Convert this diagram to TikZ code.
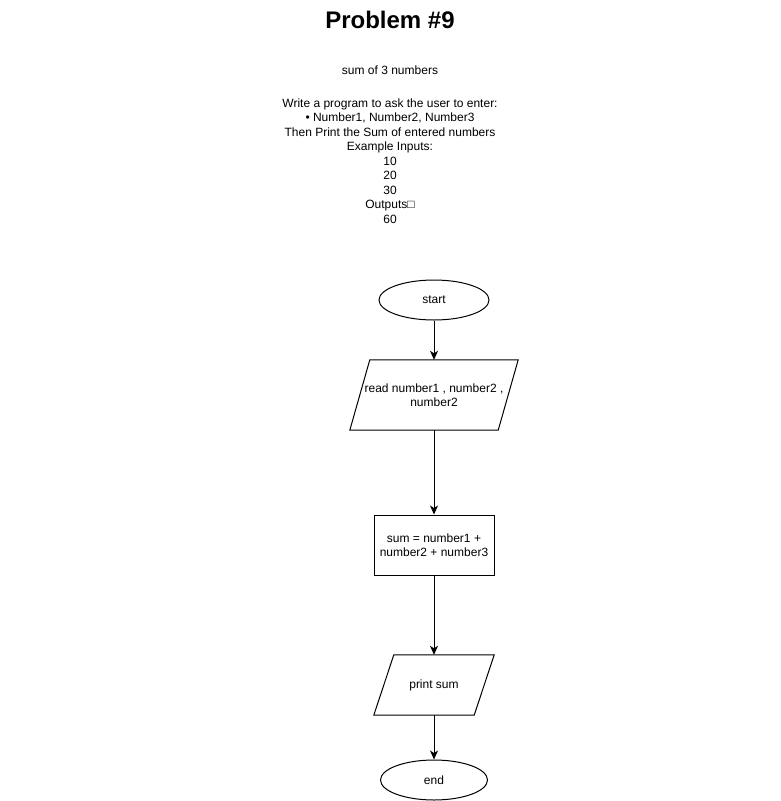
\documentclass[tikz,border=0pt]{standalone}
\usepackage{fontspec}
\setmainfont{Liberation Sans}
\usetikzlibrary{shapes.geometric,arrows.meta}
\tikzset{
  every node/.style={font=\fontsize{12}{14.5}\selectfont, inner sep=0pt},
  term/.style={ellipse, draw, line width=1pt, minimum width=110pt, minimum height=40pt},
  procbox/.style={rectangle, draw, line width=1pt, minimum width=120pt, minimum height=60pt, align=center},
  iobox/.style={rectangle, align=center},
  para/.style={line width=1pt, line join=miter},
  flow/.style={line width=1pt, -{Stealth[length=9pt,width=8pt,inset=2.5pt]}}
}
\begin{document}
\begin{tikzpicture}[x=1pt,y=1pt]
\useasboundingbox (0,0) rectangle (780,-801);
\node[anchor=base, font=\fontsize{24}{28}\selectfont\bfseries] (title) at (390,-28) {Problem \#9};
\node[anchor=base] (sub) at (390,-74) {sum of 3 numbers};
\node[align=center] (desc) at (390,-161) {Write a program to ask the user to enter:\\
• Number1, Number2, Number3\\
Then Print the Sum of entered numbers\\
Example Inputs:\\
10\\
20\\
30\\
Outputs□\\
60};
\node[term] (start) at (434,-300) {start};
\node[iobox, minimum width=148pt, minimum height=70pt] (read) at (434,-395) {read number1 , number2 ,\\number2};
\draw[para] ([xshift=10pt]read.north west) -- ([xshift=10pt]read.north east) -- ([xshift=-10pt]read.south east) -- ([xshift=-10pt]read.south west) -- cycle;
\node[procbox] (sum) at (434,-545) {sum = number1 +\\number2 + number3};
\node[iobox, minimum width=100pt, minimum height=60pt] (print) at (434,-685) {print sum};
\draw[para] ([xshift=10pt]print.north west) -- ([xshift=10pt]print.north east) -- ([xshift=-10pt]print.south east) -- ([xshift=-10pt]print.south west) -- cycle;
\node[term, minimum width=107pt] (end) at (434,-780) {end};
\draw[flow] (start.south) -- (read.north);
\draw[flow] (read.south) -- (sum.north);
\draw[flow] (sum.south) -- (print.north);
\draw[flow] (print.south) -- (end.north);
\end{tikzpicture}
\end{document}
